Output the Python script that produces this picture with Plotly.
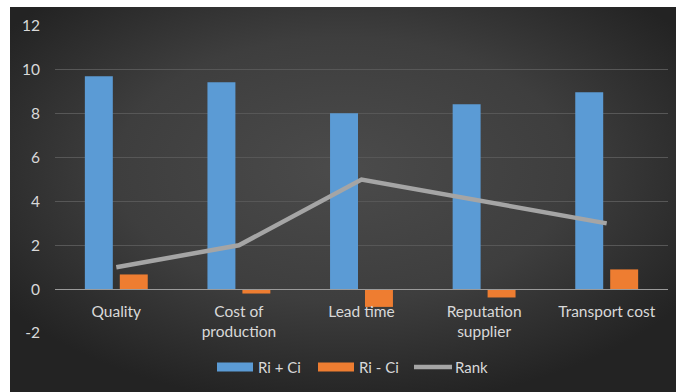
import base64
import plotly.graph_objects as go

# Criteria and their scores
categories = ["Quality", "Cost of<br>production", "Lead time", "Reputation<br>supplier", "Transport cost"]
ri_plus_ci = [9.71, 9.44, 8.02, 8.43, 8.98]
ri_minus_ci = [0.67, -0.20, -0.81, -0.38, 0.90]
rank = [1, 2, 5, 4, 3]
y_ticks = [-2, 0, 2, 4, 6, 8, 10, 12]
series_names = ["Ri + Ci", "Ri - Ci", "Rank"]

W, H = 676, 392
L, R, T, B = 55, 8, 26, 59
PW, PH = W - L - R, H - T - B

BLUE = "#5b9bd5"
ORANGE = "#ee7d31"
GRAY = "#a5a5a5"
FONT = "Lato"
TXT = "#d9d9d9"


def px_x(x):
    return (x - L) / PW


def px_y(y):
    return 1 - (y - T) / PH


fig = go.Figure()

fig.add_trace(go.Bar(x=categories, y=ri_plus_ci, name=series_names[0],
                     marker=dict(color=BLUE, line=dict(width=0))))
fig.add_trace(go.Bar(x=categories, y=ri_minus_ci, name=series_names[1],
                     marker=dict(color=ORANGE, line=dict(width=0))))
fig.add_trace(go.Scatter(x=categories, y=rank, name=series_names[2], mode="lines",
                         line=dict(color=GRAY, width=4.5)))

# dark radial-gradient chart area
svg = (
    '<svg xmlns="http://www.w3.org/2000/svg" width="666" height="385" preserveAspectRatio="none">'
    '<defs><radialGradient id="g" cx="50%" cy="42%" r="62%">'
    '<stop offset="0" stop-color="#4b4b4b"/><stop offset="0.55" stop-color="#3e3e3e"/>'
    '<stop offset="1" stop-color="#232323"/></radialGradient></defs>'
    '<rect width="666" height="385" fill="url(#g)"/></svg>'
)
src = "data:image/svg+xml;base64," + base64.b64encode(svg.encode()).decode()
x0, y0 = 10, 7
fig.add_layout_image(dict(
    source=src, xref="paper", yref="paper",
    x=px_x(x0), y=px_y(y0),
    sizex=(W - x0) / PW, sizey=(H - y0) / PH,
    xanchor="left", yanchor="top", sizing="stretch", layer="below",
))

# legend drawn below the plot: swatch boxes / line + labels
leg_y = 367
swatches = [
    dict(kind="rect", x0=217, x1=253, color=BLUE, text_x=256),
    dict(kind="rect", x0=318, x1=354, color=ORANGE, text_x=357),
    dict(kind="line", x0=414, x1=452, color=GRAY, text_x=453),
]
for name, sw in zip(series_names, swatches):
    if sw["kind"] == "rect":
        fig.add_shape(type="rect", xref="paper", yref="paper",
                      x0=px_x(sw["x0"]), x1=px_x(sw["x1"]),
                      y0=px_y(leg_y - 4.5), y1=px_y(leg_y + 4.5),
                      fillcolor=sw["color"], line=dict(width=0))
    else:
        fig.add_shape(type="line", xref="paper", yref="paper",
                      x0=px_x(sw["x0"]), x1=px_x(sw["x1"]),
                      y0=px_y(leg_y), y1=px_y(leg_y),
                      line=dict(color=sw["color"], width=4.5))
    fig.add_annotation(text=name, xref="paper", yref="paper",
                       x=px_x(sw["text_x"]), y=px_y(leg_y),
                       xanchor="left", yanchor="middle", showarrow=False,
                       font=dict(family=FONT, size=15, color=TXT))

fig.update_layout(
    width=W, height=H,
    margin=dict(l=L, r=R, t=T, b=B),
    paper_bgcolor="white",
    plot_bgcolor="rgba(0,0,0,0)",
    showlegend=False,
    barmode="group", bargap=0.43, bargroupgap=0.2,
    font=dict(family=FONT, size=15, color=TXT),
    xaxis=dict(
        anchor="free", position=2 / 14,
        showgrid=False, showline=True, linecolor="#9a9a9a", linewidth=1.3,
        ticks="", ticklabelstandoff=8,
        tickfont=dict(family=FONT, size=15.5, color=TXT),
        zeroline=False,
    ),
    yaxis=dict(
        range=[-2, 12], tickvals=y_ticks, ticktext=[str(v) for v in y_ticks],
        showgrid=True, gridcolor="#575757", gridwidth=1,
        zeroline=False, showline=False, ticks="", ticklabelstandoff=14,
        tickfont=dict(family=FONT, size=15.5, color=TXT),
    ),
)

fig.write_html("out.html")
